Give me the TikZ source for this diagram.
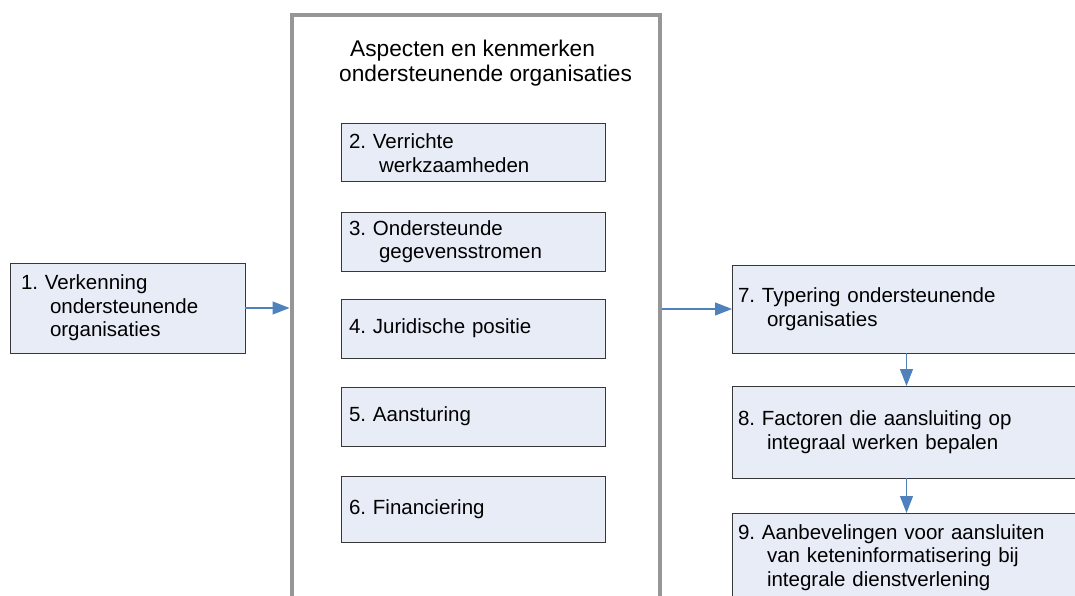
\documentclass[tikz,border=0pt]{standalone}
\usepackage{fontspec}
\setmainfont{Liberation Sans}
\usetikzlibrary{arrows.meta}
\frenchspacing

\definecolor{boxfill}{RGB}{231,236,247}
\definecolor{boxline}{RGB}{55,55,55}
\definecolor{frameline}{RGB}{150,150,150}
\definecolor{flow}{RGB}{79,129,189}

\newcommand{\hang}{\\\hspace*{29pt}}

\tikzset{
  stage/.style={rectangle, draw=boxline, line width=1pt, fill=boxfill,
    align=left, inner ysep=0pt, outer sep=0pt,
    font=\fontsize{20.5}{23.5}\selectfont},
  leftstage/.style={stage, inner xsep=11pt, text width=213pt},
  midstage/.style={stage, inner xsep=8pt, text width=248pt},
  rightstage/.style={stage, inner xsep=6pt, text width=337pt},
  frame/.style={draw=frameline, line width=4pt},
  heading/.style={align=left, inner sep=0pt, font=\fontsize{22.7}{25}\selectfont},
  flowarrow/.style={draw=flow, line width=1.2pt, -{Triangle[length=17pt,width=13pt]}}
}

\begin{document}
\begin{tikzpicture}[x=1pt, y=-1pt]
\useasboundingbox (0,0) rectangle (1075,596);

% frame around the aspects column (open at the bottom)
\draw[frame] (291.5,600) |- (659.5,15) -- (659.5,600);
\node[heading, anchor=west] (heading) at (339,63.3)
  {\hspace*{11pt}Aspecten en kenmerken\\ondersteunende organisaties};
\coordinate (frameL) at (289.5,308);
\coordinate (frameR) at (661.5,309);

% step 1
\node[leftstage, minimum height=90pt] (s1) at (127.5,308)
  {1. Verkenning\hang ondersteunende\hang organisaties};

% aspects 2--6
\node[midstage, minimum height=58pt] (s2) at (473,153)
  {2. Verrichte\\\hspace*{30pt}werkzaamheden};
\node[midstage, minimum height=59pt] (s3) at (473,241.5)
  {3. Ondersteunde\\\hspace*{30pt}gegevensstromen};
\node[midstage, minimum height=59pt] (s4) at (473,328.5) {4. Juridische positie};
\node[midstage, minimum height=59pt] (s5) at (473,416.5) {5. Aansturing};
\node[midstage, minimum height=66pt] (s6) at (473,509) {6. Financiering};

% steps 7--9
\node[rightstage, minimum height=88pt] (s7) at (906.5,309)
  {7. Typering ondersteunende\hang organisaties};
\node[rightstage, minimum height=92pt] (s8) at (906.5,432)
  {8. Factoren die aansluiting op\hang integraal werken bepalen};
\node[rightstage, minimum height=89pt] (s9) at (906.5,557.5)
  {9. Aanbevelingen voor aansluiten\hang van keteninformatisering bij\hang integrale dienstverlening};

% connectors
\draw[flowarrow] (s1.east) -- (frameL);
\draw[flowarrow] (frameR) -- (s7.west);
\draw[flowarrow] (s7.south) -- (s8.north);
\draw[flowarrow] (s8.south) -- (s9.north);
\end{tikzpicture}
\end{document}
